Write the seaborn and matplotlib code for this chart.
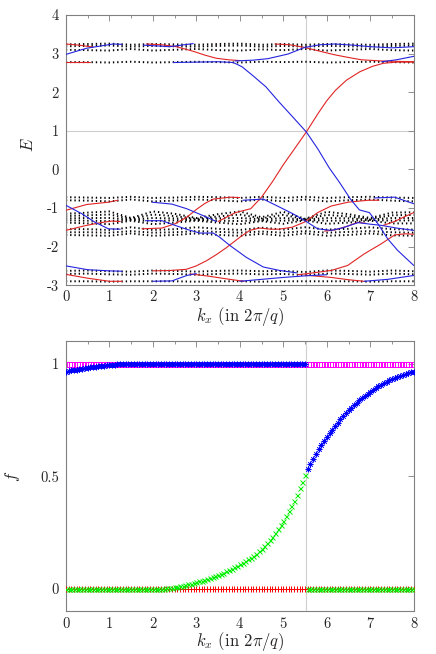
import numpy as np
import matplotlib
matplotlib.use("Agg")
import matplotlib.pyplot as plt
from matplotlib.ticker import MultipleLocator
import seaborn as sns

# ---------------- top panel: spectrum E(k_x) ----------------
k_band = [0, 0.5, 1, 1.5, 2, 2.5, 3, 3.5, 4, 4.5, 5, 5.5, 6, 6.5, 7, 7.5, 8]

# bulk bands (black dotted rows), read at k_band
band_top_1 = [3.24, 3.25, 3.26, 3.23, 3.25, 3.24, 3.23, 3.25, 3.26, 3.23, 3.25, 3.23, 3.25, 3.24, 3.23, 3.25, 3.26]
band_top_2 = [3.19, 3.20, 3.21, 3.18, 3.20, 3.19, 3.18, 3.20, 3.21, 3.18, 3.20, 3.18, 3.20, 3.19, 3.18, 3.20, 3.21]
band_top_3 = [3.10, 3.09, 3.08, 3.12, 3.08, 3.10, 3.12, 3.09, 3.08, 3.11, 3.09, 3.12, 3.08, 3.10, 3.12, 3.09, 3.08]
band_top_4 = [2.78, 2.78, 2.77, 2.79, 2.77, 2.78, 2.79, 2.78, 2.77, 2.79, 2.78, 2.79, 2.77, 2.78, 2.79, 2.78, 2.77]
band_mid_1 = [-0.72, -0.73, -0.74, -0.71, -0.74, -0.73, -0.71, -0.72, -0.74, -0.71, -0.74, -0.71, -0.74, -0.72, -0.71, -0.73, -0.74]
band_mid_2 = [-0.80, -0.81, -0.83, -0.78, -0.83, -0.81, -0.78, -0.80, -0.83, -0.78, -0.83, -0.78, -0.83, -0.80, -0.78, -0.81, -0.83]
band_mid_3 = [-1.15, -1.12, -1.09, -1.26, -1.09, -1.15, -1.26, -1.16, -1.09, -1.24, -1.10, -1.28, -1.10, -1.16, -1.26, -1.12, -1.11]
band_mid_4 = [-1.21, -1.19, -1.17, -1.28, -1.17, -1.21, -1.28, -1.22, -1.17, -1.27, -1.18, -1.29, -1.18, -1.22, -1.28, -1.19, -1.18]
band_mid_5 = [-1.27, -1.26, -1.26, -1.30, -1.26, -1.27, -1.30, -1.27, -1.26, -1.29, -1.26, -1.30, -1.26, -1.27, -1.30, -1.26, -1.26]
band_mid_6 = [-1.32, -1.33, -1.34, -1.31, -1.34, -1.32, -1.31, -1.33, -1.34, -1.32, -1.33, -1.31, -1.33, -1.33, -1.31, -1.33, -1.32]
band_mid_7 = [-1.38, -1.40, -1.42, -1.33, -1.42, -1.38, -1.33, -1.38, -1.42, -1.34, -1.41, -1.32, -1.41, -1.38, -1.33, -1.40, -1.40]
band_low_1 = [-1.55, -1.55, -1.57, -1.50, -1.57, -1.55, -1.50, -1.54, -1.57, -1.51, -1.56, -1.50, -1.56, -1.54, -1.50, -1.55, -1.56]
band_low_2 = [-1.63, -1.63, -1.64, -1.60, -1.64, -1.63, -1.60, -1.62, -1.64, -1.61, -1.64, -1.60, -1.64, -1.62, -1.60, -1.63, -1.64]
band_low_3 = [-1.70, -1.71, -1.72, -1.66, -1.72, -1.70, -1.66, -1.70, -1.72, -1.67, -1.72, -1.66, -1.72, -1.70, -1.66, -1.71, -1.72]
band_bot_1 = [-2.63, -2.62, -2.64, -2.65, -2.62, -2.63, -2.65, -2.63, -2.62, -2.64, -2.63, -2.66, -2.62, -2.63, -2.65, -2.62, -2.64]
band_bot_2 = [-2.71, -2.70, -2.72, -2.73, -2.70, -2.71, -2.73, -2.71, -2.70, -2.72, -2.71, -2.74, -2.70, -2.71, -2.73, -2.70, -2.72]
band_bot_3 = [-2.90, -2.90, -2.91, -2.90, -2.90, -2.90, -2.91, -2.90, -2.90, -2.91, -2.90, -2.90, -2.90, -2.90, -2.91, -2.90, -2.90]

# edge states at one edge (red)
red_1_k = [0, 0.3, 0.63];                 red_1_e = [3.25, 3.22, 3.17]
red_2_k = [0, 0.3, 0.55];                 red_2_e = [2.78, 2.78, 2.78]
red_3_k = [1.85, 2.2, 2.54, 2.93, 3.2, 3.46, 3.75, 4.0]
red_3_e = [3.25, 3.23, 3.18, 3.06, 2.96, 2.88, 2.84, 2.82]
red_4_k = [4.81, 5.15, 5.49, 5.85, 6.18, 6.5, 6.8, 7.26, 7.6, 8.0]
red_4_e = [3.25, 3.23, 3.16, 3.06, 2.97, 2.9, 2.84, 2.81, 2.8, 2.79]
red_5_k = [3.5, 3.9, 4.25, 4.5, 4.75, 5.0, 5.25, 5.53, 5.8, 6.0, 6.2, 6.45, 6.76, 7.05, 7.3, 7.6, 8.0]
red_5_e = [-1.35, -1.12, -1.02, -0.72, -0.32, 0.12, 0.52, 0.97, 1.45, 1.78, 2.05, 2.31, 2.53, 2.67, 2.75, 2.78, 2.78]
red_6_k = [0, 0.48, 0.98, 1.2];           red_6_e = [-1.06, -0.91, -0.85, -0.8]
red_7_k = [0, 0.44, 0.8, 1.06, 1.25];     red_7_e = [-1.58, -1.46, -1.38, -1.34, -1.35]
red_8_k = [1.75, 2.21, 2.51, 2.78, 3.0, 3.2, 3.39, 3.77, 4.0]
red_8_e = [-1.54, -1.52, -1.41, -1.24, -1.04, -0.88, -0.77, -0.72, -0.73]
red_9_k = [2.0, 2.4, 2.77, 3.0, 3.23, 3.46, 3.69, 4.0, 4.23, 4.46, 4.7, 4.9, 5.2, 5.5, 5.79, 6.1, 6.49, 6.95, 7.2]
red_9_e = [-2.63, -2.62, -2.59, -2.5, -2.37, -2.21, -2.03, -1.76, -1.58, -1.52, -1.55, -1.55, -1.5, -1.36, -1.12, -0.95, -0.85, -0.8, -0.8]
red_10_k = [5.95, 6.18, 6.45, 6.72, 6.9];  red_10_e = [-1.6, -1.57, -1.48, -1.37, -1.4]
red_11_k = [7.3, 7.56, 7.8, 8.0];          red_11_e = [-1.45, -1.35, -1.22, -1.12]
red_12_k = [5.33, 5.7, 6.1, 6.48, 6.86, 7.25, 7.56, 7.8, 8.0]
red_12_e = [-2.73, -2.68, -2.62, -2.49, -2.19, -1.93, -1.7, -1.67, -1.68]
red_13_k = [0, 0.5, 1.0, 1.3];             red_13_e = [-2.72, -2.82, -2.9, -2.9]
red_14_k = [2.85, 3.3, 3.77, 4.1];         red_14_e = [-2.71, -2.77, -2.85, -2.9]
red_15_k = [5.5, 6.1, 6.5, 6.86];          red_15_e = [-2.74, -2.8, -2.86, -2.9]

# edge states at the other edge (blue)
blue_1_k = [0, 0.48, 1.09, 1.3];           blue_1_e = [2.98, 3.14, 3.25, 3.24]
blue_2_k = [1.78, 2.39, 2.93];             blue_2_e = [3.22, 3.18, 3.26]
blue_3_k = [2.47, 3.0, 3.5, 3.85, 4.05, 4.3, 4.6, 4.9, 5.2, 5.53, 5.8, 6.05, 6.3, 6.55, 6.75, 6.98, 7.17, 7.4, 7.63, 8.0]
blue_3_e = [2.77, 2.78, 2.79, 2.77, 2.66, 2.43, 2.14, 1.75, 1.38, 0.97, 0.52, 0.05, -0.35, -0.78, -1.05, -1.12, -1.4, -1.8, -2.1, -2.49]
blue_4_k = [3.89, 4.3, 4.65, 5.11, 5.49, 5.85, 6.18, 6.6, 7.0, 7.5, 8.0]
blue_4_e = [2.81, 2.83, 2.87, 2.99, 3.16, 3.23, 3.25, 3.22, 3.18, 3.15, 3.18]
blue_5_k = [7.26, 7.6, 8.0];               blue_5_e = [2.79, 2.84, 2.93]
blue_6_k = [0, 0.37, 0.67, 0.98, 1.25];    blue_6_e = [-0.93, -1.15, -1.37, -1.54, -1.55]
blue_7_k = [1.98, 2.44, 2.78, 3.16, 3.46]; blue_7_e = [-0.85, -0.9, -1.02, -1.2, -1.35]
blue_8_k = [1.83, 2.21, 2.51, 2.8, 3.08, 3.39, 3.54, 3.77, 4.15, 4.54, 4.92, 5.3]
blue_8_e = [-1.33, -1.33, -1.45, -1.56, -1.65, -1.65, -1.76, -1.97, -2.28, -2.53, -2.62, -2.68]
blue_9_k = [4.07, 4.54, 4.92, 5.22, 5.5, 5.79, 6.1, 6.35, 6.72]
blue_9_e = [-0.8, -0.77, -0.98, -1.15, -1.33, -1.54, -1.58, -1.52, -1.38]
blue_10_k = [6.72, 7.0, 7.25, 7.6, 8.0];   blue_10_e = [-1.38, -1.42, -1.45, -1.52, -1.58]
blue_11_k = [7.1, 7.56, 8.0];              blue_11_e = [-0.74, -0.72, -0.89]
blue_12_k = [0, 0.5, 1.0, 1.3];            blue_12_e = [-2.5, -2.6, -2.63, -2.64]
blue_13_k = [2.0, 2.44, 2.78, 3.0];        blue_13_e = [-2.9, -2.89, -2.75, -2.7]
blue_14_k = [4.0, 4.5, 5.0, 5.5, 6.0];     blue_14_e = [-2.9, -2.85, -2.8, -2.76, -2.73]
blue_15_k = [6.86, 7.4, 8.0];              blue_15_e = [-2.9, -2.85, -2.75]

k_cut = 5.53
e_fermi = 1.0

# ---------------- bottom panel: occupations f(k_x) ----------------
k_occ = np.linspace(0, 8, 129)

# blue curve near k=0 (k = 0 ... 1.5), then 1 up to the cut, then recovering
f_blue_left = [0.966, 0.969, 0.971, 0.973, 0.975, 0.977, 0.979, 0.981, 0.983, 0.985,
               0.987, 0.988, 0.990, 0.991, 0.992, 0.994, 0.995, 0.996, 0.997, 0.998,
               0.998, 0.999, 0.999, 1.000, 1.000]
f_blue_right = [0.535, 0.557, 0.579, 0.600, 0.620, 0.639, 0.657, 0.675, 0.692, 0.708,
                0.724, 0.739, 0.753, 0.767, 0.780, 0.793, 0.805, 0.817, 0.828, 0.839,
                0.849, 0.859, 0.868, 0.877, 0.885, 0.893, 0.901, 0.908, 0.915, 0.921,
                0.927, 0.933, 0.938, 0.943, 0.948, 0.952, 0.956, 0.960, 0.963, 0.966]
# green curve, rising from k=2 to the cut (k = 2.0 ... 5.5)
f_green_rise = [0.000, 0.000, 0.001, 0.001, 0.002, 0.003, 0.005, 0.006, 0.008, 0.010,
                0.012, 0.014, 0.017, 0.020, 0.023, 0.027, 0.030, 0.034, 0.037, 0.041,
                0.045, 0.049, 0.054, 0.058, 0.063, 0.068, 0.073, 0.078, 0.084, 0.090,
                0.096, 0.102, 0.109, 0.116, 0.123, 0.131, 0.139, 0.148, 0.157, 0.167,
                0.178, 0.190, 0.203, 0.217, 0.232, 0.248, 0.265, 0.283, 0.302, 0.326,
                0.348, 0.370, 0.393, 0.419, 0.447, 0.476, 0.505]

f_blue = f_blue_left + [1.0] * (129 - len(f_blue_left) - len(f_blue_right)) + f_blue_right
f_green = [0.0] * 32 + f_green_rise + [0.0] * (129 - 32 - len(f_green_rise))
f_red = [0.0] * 129
f_magenta = [1.0] * 129

# ---------------- style ----------------
sns.set_theme(style="white")
plt.rcParams["font.family"] = ["cmr10", "DejaVu Sans"]
plt.rcParams["mathtext.fontset"] = "cm"
plt.rcParams["axes.unicode_minus"] = False
plt.rcParams["font.size"] = 10.5

RED = "#e02424"
BLUE = "#2424e0"
GRAY = "#808080"

fig = plt.figure(figsize=(4.36, 6.54), dpi=100)
ax1 = fig.add_axes([0.151, 0.564, 0.798, 0.413])
ax2 = fig.add_axes([0.151, 0.065, 0.798, 0.413])

# top panel
ax1.axhline(e_fermi, color="#cfcfcf", lw=0.8, zorder=0)
ax1.axvline(k_cut, color="#cfcfcf", lw=0.8, zorder=0)

bands = [band_top_1, band_top_2, band_top_3, band_top_4,
         band_mid_1, band_mid_2, band_mid_3, band_mid_4, band_mid_5, band_mid_6, band_mid_7,
         band_low_1, band_low_2, band_low_3,
         band_bot_1, band_bot_2, band_bot_3]
for row in bands:
    sns.lineplot(x=k_band, y=row, ax=ax1, color="black", lw=1.4,
                 linestyle=(0, (0.7, 1.5)), sort=False, estimator=None, zorder=2)

red_curves = [(red_1_k, red_1_e), (red_2_k, red_2_e), (red_3_k, red_3_e), (red_4_k, red_4_e),
              (red_5_k, red_5_e), (red_6_k, red_6_e), (red_7_k, red_7_e), (red_8_k, red_8_e),
              (red_9_k, red_9_e), (red_10_k, red_10_e), (red_11_k, red_11_e), (red_12_k, red_12_e),
              (red_13_k, red_13_e), (red_14_k, red_14_e), (red_15_k, red_15_e)]
blue_curves = [(blue_1_k, blue_1_e), (blue_2_k, blue_2_e), (blue_3_k, blue_3_e), (blue_4_k, blue_4_e),
               (blue_5_k, blue_5_e), (blue_6_k, blue_6_e), (blue_7_k, blue_7_e), (blue_8_k, blue_8_e),
               (blue_9_k, blue_9_e), (blue_10_k, blue_10_e), (blue_11_k, blue_11_e),
               (blue_12_k, blue_12_e), (blue_13_k, blue_13_e), (blue_14_k, blue_14_e),
               (blue_15_k, blue_15_e)]
for kk, ee in red_curves:
    sns.lineplot(x=kk, y=ee, ax=ax1, color=RED, lw=0.8, sort=False, estimator=None, zorder=3)
for kk, ee in blue_curves:
    sns.lineplot(x=kk, y=ee, ax=ax1, color=BLUE, lw=0.8, sort=False, estimator=None, zorder=3)

ax1.set_xlim(0, 8)
ax1.set_ylim(-3, 4)
ax1.set_yticks(range(-3, 5))
ax1.set_ylabel("$E$", rotation=90)
ax1.yaxis.set_label_coords(-0.085, 0.52)
ax1.xaxis.set_label_coords(0.5, -0.072)

# bottom panel
ax2.axvline(k_cut, color="#cfcfcf", lw=0.8, zorder=0)
sns.lineplot(x=k_occ, y=f_magenta, ax=ax2, linestyle="", marker="s", ms=3.6,
             markerfacecolor="none", markeredgecolor="#ff00ff", mew=0.7, estimator=None, zorder=2)
sns.lineplot(x=k_occ, y=f_red, ax=ax2, linestyle="", marker="+", ms=4.5,
             markeredgecolor="#ff0000", mew=0.7, estimator=None, zorder=3)
sns.lineplot(x=k_occ, y=f_green, ax=ax2, linestyle="", marker="x", ms=3.6,
             markeredgecolor="#00ee00", mew=0.7, estimator=None, zorder=4)
sns.lineplot(x=k_occ, y=f_blue, ax=ax2, linestyle="", marker=(8, 2, 0), ms=4.2,
             markeredgecolor="#0000ff", mew=0.5, estimator=None, zorder=5)

ax2.set_xlim(0, 8)
ax2.set_ylim(-0.1, 1.1)
ax2.set_yticks([0, 0.5, 1])
ax2.set_yticklabels(["0", "0.5", "1"])
ax2.set_ylabel("$f$", rotation=90)
ax2.yaxis.set_label_coords(-0.125, 0.5)
ax2.xaxis.set_label_coords(0.5, -0.07)

for ax in (ax1, ax2):
    ax.set_xticks(range(0, 9))
    ax.xaxis.set_minor_locator(MultipleLocator(0.5))
    ax.set_xlabel("$k_x$ (in $2\\pi/q$)")
    ax.tick_params(which="both", direction="in", top=True, right=True,
                   color=GRAY, width=0.6, labelsize=10.5)
    ax.tick_params(axis="x", pad=4)
    ax.tick_params(axis="y", pad=5)
    ax.tick_params(which="major", length=4)
    ax.tick_params(which="minor", length=2.5)
    for s in ax.spines.values():
        s.set_color(GRAY)
        s.set_linewidth(0.8)
    ax.grid(False)

fig.savefig("out.png", dpi=100)
